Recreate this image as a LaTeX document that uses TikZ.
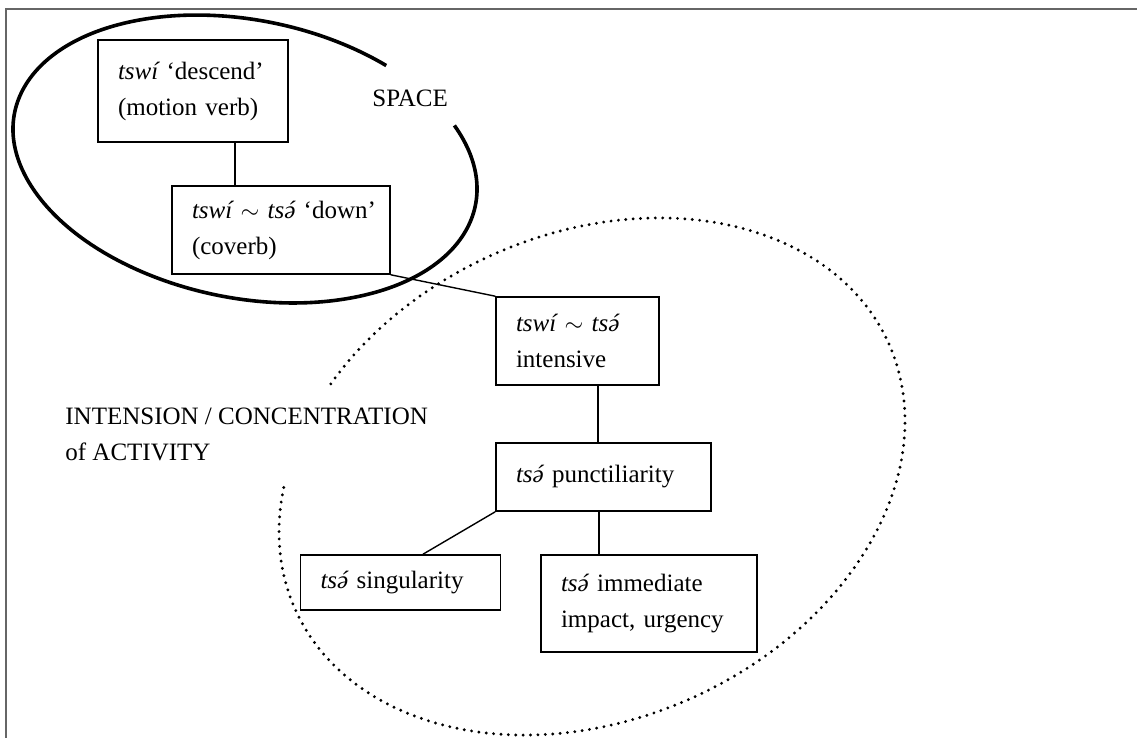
\documentclass[tikz,border=0pt]{standalone}
\usepackage{fontspec}
\setmainfont{Liberation Serif}
% schwa with acute, built by hand
\newcommand{\schwaac}{\ooalign{ə\cr\hidewidth\kern0.12em\char"00B4\hidewidth\cr}}
\begin{document}
\begin{tikzpicture}[x=0.5pt, y=-0.5pt, font=\fontsize{12.5}{18}\selectfont]
    % Define node styles
    \tikzstyle{box} = [draw, line width=0.8pt, inner xsep=10pt, inner ysep=0pt, align=left]
    \tikzstyle{link} = [line width=0.7pt]
    \tikzstyle{areatext} = [inner sep=0pt, align=left, anchor=west]
    \tikzstyle{dots} = [line width=1.6pt, line cap=round, dash pattern=on 0pt off 3.7pt]

    \useasboundingbox (0,0) rectangle (1137,738);
    \draw[line width=1pt, black!60] (6,738) -- (6,9) -- (1137,9);

    % Nodes
    \node[box, text width=75pt, minimum height=51pt] (motion) at (193,91) {{\itshape tswí} `descend'\\(motion verb)};
    \node[box, text width=89pt, minimum height=44pt] (coverb) at (281,230) {{\itshape tswí}~$\sim$~{\itshape ts\schwaac}~`down'\\(coverb)};
    \node[box, text width=61.5pt, minimum height=44pt] (intens) at (577.5,341) {{\itshape tswí}~$\sim$~{\itshape ts\schwaac}\\intensive};
    \node[box, text width=87.5pt, minimum height=34pt] (punct) at (603.5,477) {{\itshape ts\schwaac}~punctiliarity};
    \node[box, text width=80pt, minimum height=27.5pt] (single) at (400.5,582.5) {{\itshape ts\schwaac}~singularity};
    \node[box, text width=88pt, minimum height=48.5pt] (impact) at (649,603.5) {{\itshape ts\schwaac}~immediate\\impact, urgency};

    \node[areatext] (space) at (372,98) {SPACE};
    \node[areatext] (activity) at (65,434) {INTENSION / CONCENTRATION\\of ACTIVITY};

    % Areas
    \draw[line width=1.8pt, shift={(245,159)}, rotate=-11.4]
        ({235*cos(-32.3)},{139*sin(-32.3)}) arc[start angle=-32.3, end angle=300.7, x radius=235, y radius=139];
    \draw[dots, shift={(592,476.5)}, rotate=24.1]
        ({325.2*cos(231.9)},{243*sin(231.9)}) arc[start angle=231.9, end angle=568.6, x radius=325.2, y radius=243];

    % Edges
    \draw[link] ([xshift=21pt]motion.south) -- ([xshift=21pt]motion.south |- coverb.north);
    \draw[link] (coverb.south east) -- (intens.north west);
    \draw[link] ([xshift=10.25pt]intens.south) -- ([xshift=10.25pt]intens.south |- punct.north);
    \draw[link] (punct.south west) -- ([xshift=11.25pt]single.north);
    \draw[link] ([xshift=-2.25pt]punct.south) -- ([xshift=-2.25pt]punct.south |- impact.north);
\end{tikzpicture}
\end{document}
